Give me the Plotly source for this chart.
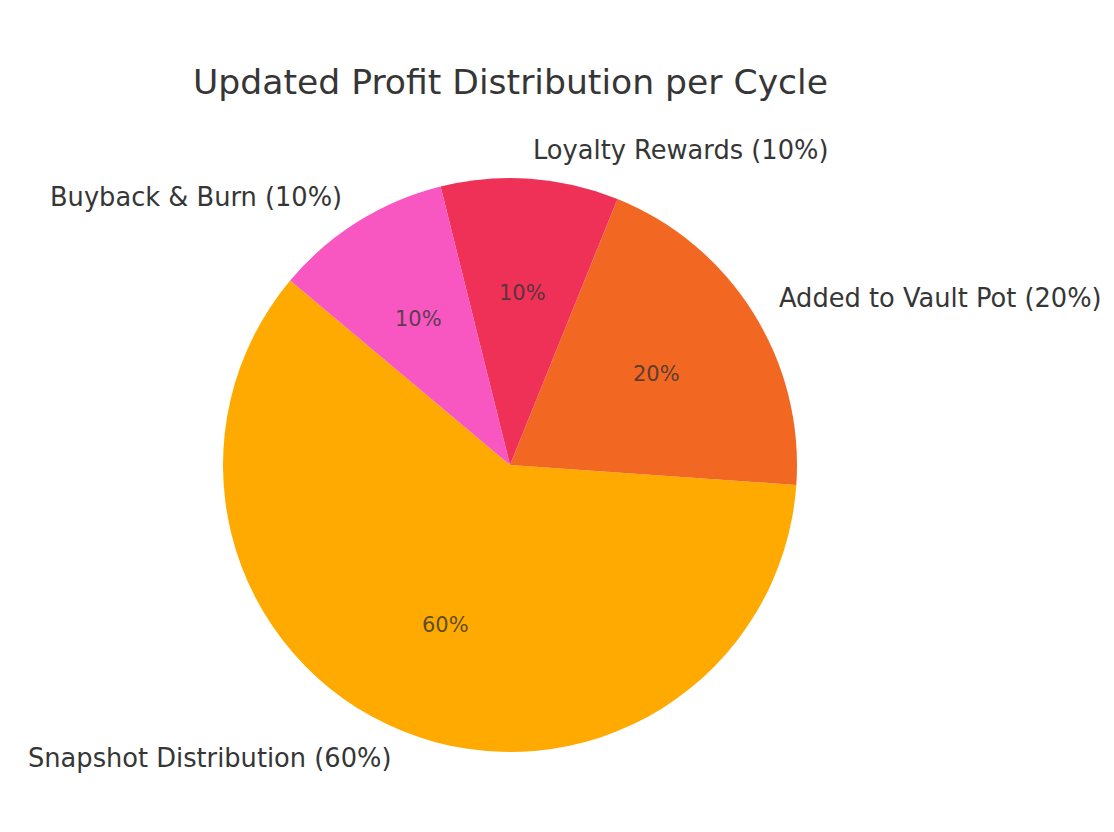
import math
import plotly.graph_objects as go

labels = ["Snapshot Distribution", "Added to Vault Pot", "Loyalty Rewards", "Buyback & Burn"]
values = [60, 20, 10, 10]
colors = ["#FFAA00", "#F26722", "#F03157", "#F857C1"]
title = "Updated Profit Distribution per Cycle"

W, H = 1114, 832
CX, CY, R = 510, 465, 287          # pie centre / radius in pixels
START = 140                         # start angle (deg, math convention)
FONT = "DejaVu Sans"
TXT = "#363636"

total = sum(values)
first_end = START + values[0] / total * 360   # ccw end of first slice (math deg)

fig = go.Figure(go.Pie(
    labels=labels, values=values, sort=False,
    direction="counterclockwise", rotation=(90 - first_end) % 360,
    marker=dict(colors=colors, line=dict(width=0)),
    textinfo="none", hoverinfo="label+percent", showlegend=False,
    domain=dict(x=[(CX - R) / W, (CX + R) / W], y=[1 - (CY + R) / H, 1 - (CY - R) / H]),
))

ann = []
cum = 0
for lab, v in zip(labels, values):
    mid = math.radians(START + (cum + v / 2) / total * 360)
    cum += v
    pct = v / total * 100
    # outside label
    lx = CX + 1.1 * R * math.cos(mid)
    ly = CY - 1.1 * R * math.sin(mid)
    ann.append(dict(x=lx / W, y=1 - ly / H, xref="paper", yref="paper",
                    text=f"{lab} ({pct:.0f}%)", showarrow=False, borderpad=0,
                    xanchor="left" if lx > CX else "right", yanchor="middle",
                    font=dict(family=FONT, size=25.7, color=TXT)))
    # percent label
    px = CX + 0.6 * R * math.cos(mid)
    py = CY - 0.6 * R * math.sin(mid)
    ann.append(dict(x=px / W, y=1 - py / H, xref="paper", yref="paper",
                    text=f"{pct:.0f}%", showarrow=False, borderpad=0,
                    xanchor="center", yanchor="middle",
                    font=dict(family=FONT, size=21, color="rgba(51,51,51,0.8)")))

ann.append(dict(x=CX / W, y=1 - 82 / H, xref="paper", yref="paper", text=title,
                showarrow=False, xanchor="center", yanchor="middle",
                font=dict(family=FONT, size=34.6, color=TXT)))

fig.update_layout(width=W, height=H, margin=dict(l=0, r=0, t=0, b=0),
                  paper_bgcolor="white", plot_bgcolor="white", annotations=ann)
fig.write_html("out.html")
